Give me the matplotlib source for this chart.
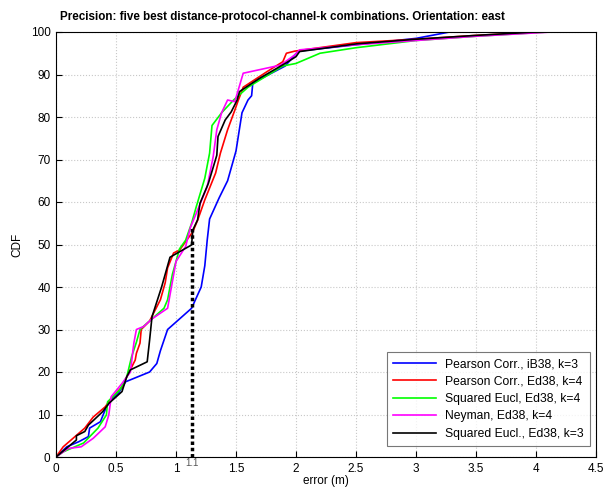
import matplotlib
matplotlib.use("Agg")
import matplotlib.pyplot as plt

plt.rcParams['font.family'] = ['Liberation Sans', 'DejaVu Sans']

title = "Precision: five best distance-protocol-channel-k combinations. Orientation: east"
labels = ["Pearson Corr., iB38, k=3", "Pearson Corr., Ed38, k=4", "Squared Eucl, Ed38, k=4",
          "Neyman, Ed38, k=4", "Squared Eucl., Ed38, k=3"]
colors = ["#0000ff", "#ff0000", "#00ff00", "#ff00ff", "#000000"]

blue_x = [0, 0.09, 0.19, 0.27, 0.28, 0.37, 0.42, 0.46, 0.52, 0.58, 0.78, 0.84, 0.87, 0.93, 1.13, 1.21,
          1.24, 1.26, 1.28, 1.36, 1.43, 1.5, 1.55, 1.6, 1.63, 1.64, 1.91, 1.99, 2.02, 2.5, 3.0, 3.28]
blue_y = [0, 2.4, 3.6, 4.8, 6.8, 8.3, 11.8, 13.4, 15, 17.7, 20, 22, 25, 30, 35, 40,
          45, 51, 56, 61, 65, 72, 81, 84, 85, 88, 92, 94.6, 95.5, 97, 98.5, 100]

red_x = [0, 0.06, 0.24, 0.31, 0.41, 0.46, 0.55, 0.59, 0.66, 0.67, 0.70, 0.71, 0.78, 0.87, 0.91, 0.93,
         0.98, 1.03, 1.14, 1.18, 1.24, 1.33, 1.37, 1.43, 1.49, 1.52, 1.56, 1.76, 1.89, 1.92, 1.99,
         2.5, 3.0, 3.5, 4.05]
red_y = [0, 2.4, 6.8, 9.4, 11.8, 13.8, 16.5, 18.9, 22.8, 24.4, 26.8, 30, 32, 37, 41, 44.5,
         48, 48.7, 53, 55.7, 60.5, 66.8, 71.5, 77, 81.6, 84, 87, 90.7, 93, 95, 95.5,
         97.5, 98.3, 99.2, 100]

green_x = [0, 0.06, 0.23, 0.35, 0.42, 0.43, 0.53, 0.59, 0.63, 0.67, 0.7, 0.8, 0.9, 0.93, 0.97, 1.03,
           1.08, 1.13, 1.17, 1.24, 1.28, 1.30, 1.38, 1.48, 1.6, 1.89, 2.0, 2.2, 2.5, 3.0, 3.5, 4.1]
green_y = [0, 1.2, 3.3, 6.8, 9.9, 13, 15.7, 18.9, 23.6, 27, 30, 32.5, 35, 37, 43, 49,
           51, 55, 59, 65.6, 71.5, 78, 81, 84, 87, 92, 92.6, 95, 96.3, 98, 99, 100]

mag_x = [0, 0.1, 0.21, 0.31, 0.41, 0.44, 0.46, 0.55, 0.62, 0.64, 0.65, 0.67, 0.73, 0.8, 0.93, 1.0,
         1.08, 1.12, 1.26, 1.31, 1.34, 1.38, 1.43, 1.49, 1.56, 1.87, 1.99, 2.03, 2.5, 3.0, 3.5, 4.13]
mag_y = [0, 2, 2.4, 4.4, 7.1, 9.9, 14.2, 17.3, 20, 24.8, 27, 30, 30.7, 32.5, 35, 46,
         49.5, 54, 63.6, 70.7, 77, 81, 84, 83.6, 90.3, 92.2, 94.6, 95.8, 97, 98, 99, 100]

blk_x = [0, 0.17, 0.17, 0.24, 0.27, 0.39, 0.44, 0.55, 0.59, 0.62, 0.76, 0.78, 0.80, 0.88, 0.95, 1.03,
         1.13, 1.14, 1.18, 1.2, 1.27, 1.34, 1.35, 1.41, 1.46, 1.51, 1.53, 1.69, 1.91, 2.0, 2.03,
         2.5, 3.0, 3.5, 4.0]
blk_y = [0, 4, 5, 6, 7.5, 10.7, 12.6, 15.4, 18.9, 20.5, 22.4, 27.5, 33, 40, 47, 48.3,
         49.9, 53.4, 55.8, 59.7, 64.4, 71, 75.4, 79.3, 81.2, 84, 86, 89, 92.6, 94.2, 95.4,
         97.2, 98.3, 99.2, 100]

series_x = [blue_x, red_x, green_x, mag_x, blk_x]
series_y = [blue_y, red_y, green_y, mag_y, blk_y]

marker_x = 1.13
marker_top = 54
marker_label = "1.1"

x_ticks = [0, 0.5, 1, 1.5, 2, 2.5, 3, 3.5, 4, 4.5]
x_ticklabels = ["0", "0.5", "1", "1.5", "2", "2.5", "3", "3.5", "4", "4.5"]
y_ticks = list(range(0, 101, 10))

fig = plt.figure(figsize=(6.03, 4.91), dpi=100)
ax = fig.add_axes([56/603, 1 - 457/491, (596 - 56)/603, (457 - 32)/491])

for xs, ys, c, lab in zip(series_x, series_y, colors, labels):
    ax.plot(xs, ys, color=c, lw=1.2, label=lab)

ax.plot([marker_x, marker_x], [0, marker_top], color='black', lw=2.5, linestyle=(0, (1, 0.8)))
ax.text(marker_x, -0.3, marker_label, ha='center', va='top', fontsize=7, color='#555555')

ax.set_xlim(0, 4.5)
ax.set_ylim(0, 100)
ax.set_xticks(x_ticks)
ax.set_xticklabels(x_ticklabels)
ax.set_yticks(y_ticks)
ax.tick_params(direction='in', length=4, labelsize=8.5, top=False, right=False, pad=4)
ax.grid(True, color='#c8c8c8', linestyle=':', linewidth=0.8)
for s in ax.spines.values():
    s.set_linewidth(0.8)
ax.set_xlabel("error (m)", fontsize=8.5, labelpad=0)
ax.set_ylabel("CDF", fontsize=8.5, labelpad=5)
fig.text(282/603, 1 - 17/491, title, ha='center', va='center', fontsize=8.4, fontweight='bold')

leg = ax.legend(loc='lower right', fontsize=8.7, frameon=True, fancybox=False,
                edgecolor='#555555', handlelength=3.5, borderpad=0.5, labelspacing=0.45,
                bbox_to_anchor=(1.0, 0.012))
leg.get_frame().set_linewidth(0.8)

fig.savefig("out.png", dpi=100)
